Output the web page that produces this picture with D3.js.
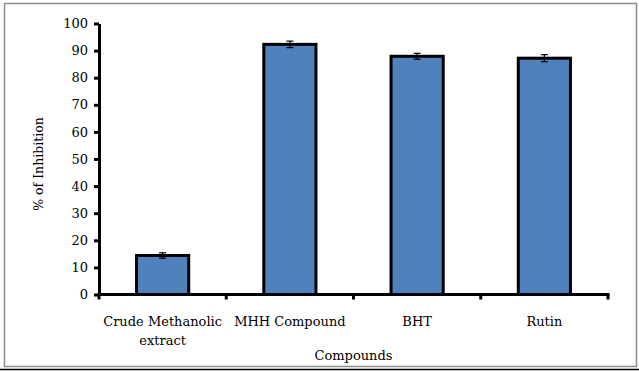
<!DOCTYPE html>
<html>
<head>
    <meta charset="UTF-8">
    <title>% of Inhibition</title>
    <script src="https://d3js.org/d3.v7.min.js"></script>
    <style>
        body { margin: 0; padding: 0; background: #fff; }
        text { font-family: 'DejaVu Serif', serif; fill: #000; }
    </style>
</head>
<body>
    <svg width="639" height="371"></svg>
    <script>
        const categories = ["Crude Methanolic extract", "MHH Compound", "BHT", "Rutin"];
        const values = [14.4, 92.3, 87.9, 87.2];
        const errors = [1.0, 1.2, 1.1, 1.3];
        const yTicks = [0, 10, 20, 30, 40, 50, 60, 70, 80, 90, 100];

        const svg = d3.select("svg");

        // frame
        svg.append("rect").attr("x", 4.5).attr("y", 3.5).attr("width", 632).attr("height", 363)
            .attr("fill", "none").attr("stroke", "#8c8c8c").attr("stroke-width", 1.5);
        svg.append("line").attr("x1", 0).attr("x2", 639).attr("y1", 369.5).attr("y2", 369.5)
            .attr("stroke", "#000").attr("stroke-width", 1.5);

        const pLeft = 99, pRight = 608, pTop = 23.5, pBottom = 294.5;

        const x = d3.scaleBand().domain(categories).range([pLeft, pRight]).paddingInner(0.59).paddingOuter(0.295);
        const y = d3.scaleLinear().domain([0, 100]).range([pBottom, pTop]);

        // bars
        svg.append("g").selectAll("rect")
            .data(categories)
            .enter()
            .append("rect")
            .attr("x", d => x(d))
            .attr("y", (d, i) => y(values[i]))
            .attr("width", x.bandwidth())
            .attr("height", (d, i) => pBottom - y(values[i]))
            .attr("fill", "#4f81bd")
            .attr("stroke", "#000")
            .attr("stroke-width", 3);

        // error bars
        const eb = svg.append("g").attr("stroke", "#000").attr("stroke-width", 1.2);
        categories.forEach(function (c, i) {
            const cx = x(c) + x.bandwidth() / 2;
            eb.append("line").attr("x1", cx).attr("x2", cx)
                .attr("y1", y(values[i] + errors[i])).attr("y2", y(values[i] - errors[i]));
            [values[i] + errors[i], values[i] - errors[i]].forEach(function (v) {
                eb.append("line").attr("x1", cx - 3.5).attr("x2", cx + 3.5)
                    .attr("y1", y(v)).attr("y2", y(v));
            });
        });

        // y axis
        const yAxis = svg.append("g").attr("transform", `translate(${pLeft},0)`)
            .call(d3.axisLeft(y).tickValues(yTicks).tickSize(5).tickSizeOuter(0).tickPadding(6));
        yAxis.select(".domain").attr("stroke", "#000").attr("stroke-width", 3);
        yAxis.selectAll(".tick line").attr("stroke", "#000").attr("stroke-width", 3);
        yAxis.selectAll(".tick text").style("font-family", "'DejaVu Serif', serif").style("font-size", "13px").attr("fill", "#000");

        // x axis
        const xEdges = [pLeft].concat(categories.map(c => x(c) + x.bandwidth() / 2 + x.step() / 2));
        const xg = svg.append("g");
        xg.append("line").attr("x1", pLeft - 1.5).attr("x2", pRight + 1.5).attr("y1", pBottom).attr("y2", pBottom)
            .attr("stroke", "#000").attr("stroke-width", 3);
        xg.selectAll(".xt").data(xEdges).enter().append("line")
            .attr("x1", d => d).attr("x2", d => d).attr("y1", pBottom).attr("y2", pBottom + 5)
            .attr("stroke", "#000").attr("stroke-width", 3);

        const labelLines = {
            "Crude Methanolic extract": ["Crude Methanolic", "extract"]
        };
        categories.forEach(function (c) {
            const lines = labelLines[c] || [c];
            const t = xg.append("text").attr("text-anchor", "middle")
                .attr("x", x(c) + x.bandwidth() / 2).attr("y", pBottom + 31)
                .style("font-size", "13px");
            lines.forEach(function (l, j) {
                t.append("tspan").attr("x", x(c) + x.bandwidth() / 2).attr("dy", j === 0 ? 0 : 19).text(l);
            });
        });

        // axis titles
        svg.append("text").attr("text-anchor", "middle").attr("x", (pLeft + pRight) / 2).attr("y", 360)
            .style("font-size", "13px").text("Compounds");
        svg.append("text").attr("text-anchor", "middle")
            .attr("transform", "translate(43,164) rotate(-90)")
            .style("font-size", "12.5px").text("% of Inhibition");
    </script>
</body>
</html>
